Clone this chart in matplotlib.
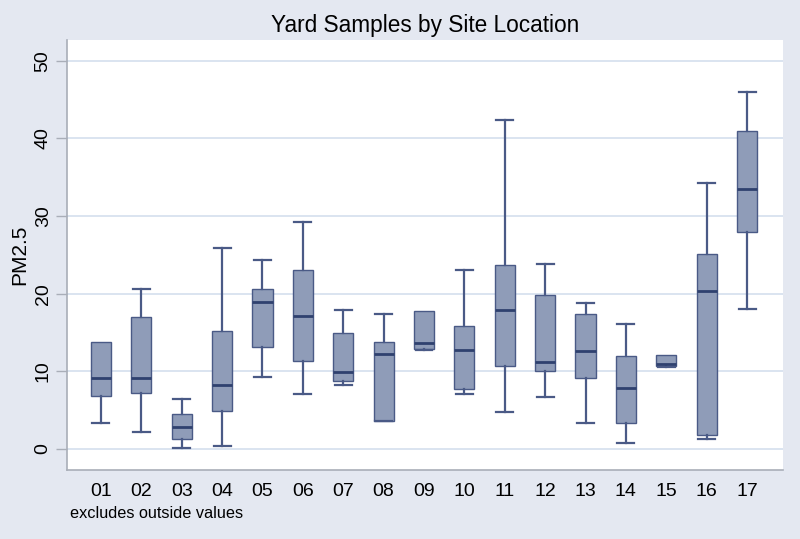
import numpy as np
import matplotlib
matplotlib.use("Agg")
import matplotlib.pyplot as plt

plt.rcParams['font.family'] = ['Liberation Sans', 'DejaVu Sans']

# --------------------------------------------------
# Data (PM2.5 by site)
# --------------------------------------------------
sites = ["01", "02", "03", "04", "05", "06", "07", "08", "09",
         "10", "11", "12", "13", "14", "15", "16", "17"]
whis_lo = [3.4, 2.2, 0.1, 0.35, 9.3, 7.1, 8.2, 3.6, 12.8,
           7.05, 4.8, 6.7, 3.4, 0.8, 10.6, 1.3, 18.0]
q1 = [6.8, 7.2, 1.3, 4.9, 13.2, 11.4, 8.8, 3.65, 12.9,
      7.7, 10.7, 10.1, 9.1, 3.4, 10.7, 1.8, 28.0]
median = [9.2, 9.2, 2.9, 8.3, 19.0, 17.1, 9.9, 12.2, 13.6,
          12.7, 17.95, 11.2, 12.6, 7.8, 10.95, 20.3, 33.5]
q3 = [13.8, 17.0, 4.5, 15.2, 20.6, 23.1, 14.9, 13.8, 17.8,
      15.9, 23.75, 19.8, 17.35, 12.0, 12.1, 25.1, 41.0]
whis_hi = [13.8, 20.6, 6.4, 25.9, 24.4, 29.2, 17.9, 17.4, 17.8,
           23.0, 42.4, 23.8, 18.85, 16.1, 12.1, 34.3, 46.0]

bg = "#e4e8f1"
fill = "#8f9cb8"
edge = "#4a5a86"
med_col = "#2f416f"

stats = []
for i in range(len(sites)):
    stats.append({"label": sites[i], "whislo": whis_lo[i], "q1": q1[i],
                  "med": median[i], "q3": q3[i], "whishi": whis_hi[i],
                  "fliers": []})

fig = plt.figure(figsize=(8, 5.39), dpi=100, facecolor=bg)
ax = fig.add_axes([0.08375, 0.128, 0.895, 0.798])
ax.set_facecolor("white")

positions = np.arange(1, len(sites) + 1)
parts = ax.bxp(stats, positions=positions, widths=0.5, patch_artist=True,
               showfliers=False, capwidths=0.42,
               boxprops=dict(facecolor=fill, edgecolor=edge, linewidth=1.0),
               medianprops=dict(color=med_col, linewidth=2.0),
               whiskerprops=dict(color=edge, linewidth=1.6),
               capprops=dict(color=edge, linewidth=1.6))

# no upper cap where the whisker has zero length
for i in range(len(sites)):
    if whis_hi[i] <= q3[i]:
        parts["caps"][2 * i + 1].set_visible(False)

ax.set_xlim(0.16, 17.89)
ax.set_ylim(-2.7, 52.7)
ax.set_yticks([0, 10, 20, 30, 40, 50])
ax.yaxis.grid(True, color="#dbe4f0", linewidth=1.4)
ax.set_axisbelow(True)

for s in ["top", "right"]:
    ax.spines[s].set_visible(False)
for s in ["left", "bottom"]:
    ax.spines[s].set_color("#a9aeb8")
    ax.spines[s].set_linewidth(1.2)

ax.tick_params(axis="y", direction="out", length=8, width=1.0,
               color="#a9aeb8", labelsize=14, pad=3)
for lbl in ax.get_yticklabels():
    lbl.set_rotation(90)
    lbl.set_va("center")
ax.tick_params(axis="x", length=0, labelsize=14, pad=9)

ax.set_ylabel("PM2.5", fontsize=15, labelpad=4)
fig.text(0.531, 1 - 32 / 539, "Yard Samples by Site Location",
         fontsize=16.3, ha="center", va="baseline")
fig.text(0.0875, 0.048, "excludes outside values", fontsize=11.7,
         ha="left", va="center")

fig.savefig("out.png", dpi=100, facecolor=bg)
